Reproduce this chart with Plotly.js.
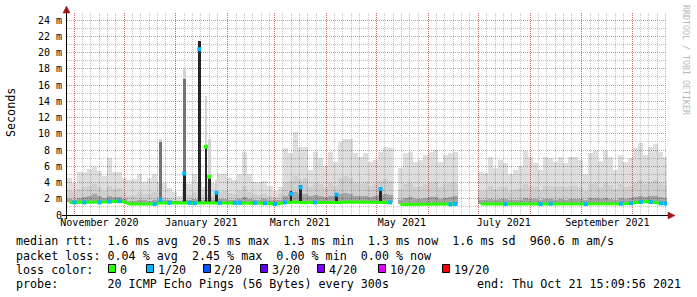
<!DOCTYPE html>
<html><head><meta charset="utf-8">
<script src="https://cdn.plot.ly/plotly-3.0.1.min.js"></script>
<style>html,body{margin:0;padding:0;background:#fff;}#chart{width:697px;height:297px;}</style>
</head><body><div id="chart"></div>
<script>
// ---- data (ms), one value per 3-day bin starting 2020-10-27 19:30 ----
const BIN_START = '2020-10-27T19:30:00Z';
const BIN_DAYS = 3;
const smokeTop = [4.6,4.0,5.3,5.3,5.7,5.9,5.4,4.8,7.0,5.3,
 5.3,4.5,4.3,4.4,5.0,4.1,4.5,5.0,4.1,4.0,
 3.3,2.8,2.4,4.1,3.8,5.0,4.0,3.5,3.9,3.9,
 5.1,5.1,4.6,4.3,5.0,7.8,5.0,4.1,4.1,4.2,
 3.6,3.0,3.5,8.2,7.6,10.2,8.4,8.4,5.5,7.8,
 7.0,6.0,7.8,6.5,9.0,9.3,9.3,7.6,7.2,7.6,
 6.5,6.8,7.8,8.4,8.2,null,5.8,7.6,7.7,6.5,
 6.8,7.4,7.8,8.0,6.5,7.4,7.6,7.8,null,null,
 null,null,5.3,5.2,7.2,5.8,6.8,6.4,5.0,5.6,
 6.0,7.9,7.2,6.4,5.5,7.1,7.0,6.5,7.2,6.4,
 7.1,7.1,6.8,5.0,7.6,7.9,6.6,7.9,7.2,5.6,
 7.4,6.5,7.0,8.3,8.9,7.4,8.4,8.8,7.8,7.2];
const smokeMid = [3.0,2.8,3.2,3.5,3.6,3.8,3.4,3.0,3.6,3.2,
 3.3,2.8,2.4,2.5,2.8,2.6,2.6,2.8,2.4,2.2,
 2.1,2.0,1.9,2.6,2.5,2.8,2.6,2.4,2.5,2.4,
 2.8,2.9,2.7,2.6,2.9,3.6,2.8,2.6,2.5,2.6,
 2.4,2.2,2.6,4.0,4.2,4.8,4.3,4.5,3.5,4.0,
 3.8,3.5,4.0,3.6,4.6,4.8,4.6,4.0,3.8,4.0,
 3.6,3.8,4.2,4.4,4.2,null,3.2,3.8,4.0,3.5,
 3.6,3.8,4.0,4.1,3.5,3.8,3.9,4.0,null,null,
 null,null,3.0,3.0,3.6,3.2,3.5,3.4,3.0,3.2,
 3.3,3.8,3.6,3.4,3.1,3.6,3.6,3.4,3.6,3.4,
 3.6,3.6,3.5,3.0,3.8,3.9,3.5,3.9,3.7,3.2,
 3.8,3.5,3.6,4.0,4.3,3.8,4.1,4.3,3.9,3.7];
const smokeLow = [2.0,1.9,2.1,2.2,2.4,2.6,2.3,2.1,2.3,2.2,
 2.2,2.0,1.7,1.7,1.8,1.8,1.7,1.8,1.9,1.8,
 1.8,1.7,1.7,1.9,1.9,2.0,1.9,1.8,1.9,1.9,
 2.0,2.0,1.9,1.9,2.0,2.2,2.0,1.9,1.9,2.0,
 1.9,1.8,1.9,2.4,2.6,2.8,2.6,2.6,2.3,2.5,
 2.4,2.2,2.4,2.3,2.6,2.7,2.6,2.4,2.3,2.4,
 2.2,2.3,2.5,2.6,2.5,null,1.8,2.1,2.2,2.0,
 2.0,2.1,2.2,2.2,2.0,2.1,2.2,2.3,null,null,
 null,null,1.8,1.8,2.0,1.9,2.0,2.0,1.8,1.9,
 1.9,2.1,2.0,2.0,1.9,2.0,2.0,1.9,2.0,1.9,
 2.0,2.0,2.0,1.8,2.1,2.1,2.0,2.1,2.0,1.9,
 2.1,2.0,2.1,2.2,2.4,2.2,2.3,2.4,2.2,2.1];
const median = [1.55,1.55,1.6,1.55,1.6,1.6,1.55,1.6,1.65,1.7,
 1.7,1.6,1.35,1.35,1.35,1.35,1.35,1.35,1.5,1.5,
 1.5,1.45,1.45,1.5,1.5,1.45,1.5,1.5,1.5,1.5,
 1.5,1.5,1.45,1.5,1.5,1.5,1.5,1.5,1.5,1.45,
 1.4,1.35,1.4,1.55,1.55,1.6,1.55,1.5,1.55,1.55,
 1.5,1.55,1.55,1.5,1.55,1.6,1.6,1.55,1.6,1.55,
 1.6,1.6,1.55,1.6,1.55,null,1.3,1.3,1.35,1.3,
 1.3,1.3,1.3,1.35,1.3,1.3,1.3,1.35,null,null,
 null,null,1.35,1.35,1.35,1.35,1.35,1.35,1.35,1.35,
 1.35,1.35,1.35,1.4,1.35,1.35,1.4,1.35,1.35,1.35,
 1.35,1.4,1.35,1.35,1.35,1.4,1.35,1.35,1.4,1.35,
 1.4,1.4,1.45,1.5,1.6,1.65,1.6,1.5,1.45,1.4];
const lossBins = [1,3,6,8,10,17,20,24,25,30,33,34,37,39,41,43,49,64,76,77,87,94,96,103,110,112,114,116,118,119];

// short high-latency episodes
const spikeDates  = ['2020-12-22 18:30','2021-01-06 00:00','2021-01-14 23:00','2021-01-19 00:00','2021-01-20 23:00','2021-01-25 07:00','2021-03-10 22:00','2021-03-16 14:00','2021-04-07 03:00','2021-05-03 11:00'];
const spikeBase   = [1.5,1.5,1.5,1.5,1.5,1.5,1.5,1.5,1.5,1.5];
const spikeLight  = [9.3,18.2,21.4,14.7,9.3,4.3,null,null,null,null];
const spikeMid    = [9.0,16.8,21.4,8.6,4.8,2.9,null,null,null,null];
const spikeDark   = [1.9,5.1,21.4,8.5,4.7,2.8,2.9,3.7,2.6,3.4];
const spikeMedian = [1.85,5.1,20.4,8.4,4.7,2.75,2.6,3.4,2.5,3.2];
const spikeLoss   = [1,1,1,0,0,1,1,1,1,1];

// axes
const monthStarts = ['2020-11-01','2020-12-01','2021-01-01','2021-02-01','2021-03-01','2021-04-01','2021-05-01','2021-06-01','2021-07-01','2021-08-01','2021-09-01','2021-10-01'];
const xTickVals = ['2020-11-16 06:00','2021-01-16 06:00','2021-03-16 06:00','2021-05-16 06:00','2021-07-16 06:00','2021-09-16 06:00'];
const xTickText = ['November 2020','January 2021','March 2021','May 2021','July 2021','September 2021'];
const yTickVals = [0,2,4,6,8,10,12,14,16,18,20,22,24];
const yTickText = ['0','2 m','4 m','6 m','8 m','10 m','12 m','14 m','16 m','18 m','20 m','22 m','24 m'];
const yMinorVals = [1,3,5,7,9,11,13,15,17,19,21,23];

// legend
const lossLabels = ['0','1/20','2/20','3/20','4/20','10/20','19/20'];
const lossColors = ['#26ff00','#00b8ff','#0059ff','#5e00ff','#7e00ff','#dd00ff','#ff0000'];
const legendLines = [
 'median rtt:  1.6 ms avg  20.5 ms max  1.3 ms min  1.3 ms now  1.6 ms sd  960.6 m am/s',
 'packet loss: 0.04 % avg  2.45 % max  0.00 % min  0.00 % now',
 'loss color:',
 'probe:       20 ICMP Echo Pings (56 Bytes) every 300s'];
const endText = 'end: Thu Oct 21 15:09:56 2021';

// ---- build ----
const DAY = 864e5;
const t0 = Date.parse(BIN_START);
const binX = smokeTop.map((_, i) => t0 + (i * BIN_DAYS + BIN_DAYS / 2) * DAY);
const above = (arr, base) => arr.map((v, i) => (v == null || base[i] == null) ? null : v - base[i]);
const RANGE = ['2020-10-27 19:30', '2021-10-21 22:30'];
const FONT = 'DejaVu Sans Mono';

const traces = [
 {type:'bar', x:binX, base:median, y:above(smokeTop, median), width:BIN_DAYS*DAY, marker:{color:'rgba(0,0,0,0.13)', line:{width:0}}, hoverinfo:'skip'},
 {type:'bar', x:binX, base:median, y:above(smokeMid, median), width:BIN_DAYS*DAY, marker:{color:'rgba(0,0,0,0.065)', line:{width:0}}, hoverinfo:'skip'},
 {type:'bar', x:binX, base:median, y:above(smokeLow, median), width:BIN_DAYS*DAY, marker:{color:'rgba(0,0,0,0.2)', line:{width:0}}, hoverinfo:'skip'},
 {type:'bar', x:spikeDates, base:spikeBase, y:above(spikeLight, spikeBase), width:1.6*DAY, marker:{color:'#d2d2d2', line:{width:0}}, hoverinfo:'skip'},
 {type:'bar', x:spikeDates, base:spikeBase, y:above(spikeMid, spikeBase), width:1.6*DAY, marker:{color:'#747474', line:{width:0}}, hoverinfo:'skip'},
 {type:'bar', x:spikeDates, base:spikeBase, y:above(spikeDark, spikeBase), width:1.6*DAY, marker:{color:'#262626', line:{width:0}}, hoverinfo:'skip'},
 {type:'scatter', mode:'lines', x:binX, y:median, line:{color:lossColors[0], width:3}, hoverinfo:'skip'},
 {type:'scatter', mode:'markers', xaxis:'x2', x:lossBins.map(i => binX[i]), y:lossBins.map(i => median[i]), marker:{symbol:'square', size:4, color:lossColors[1], line:{width:0}}, hoverinfo:'skip'},
 {type:'scatter', mode:'markers', xaxis:'x2', x:spikeDates, y:spikeMedian, marker:{symbol:'square', size:4, color:spikeLoss.map(l => lossColors[l]), line:{width:0}}, hoverinfo:'skip'}
];

// minor vertical grid: days 1,6,11,16,21,26 of each month
const minorGrid = [];
const months = ['2020-10','2020-11','2020-12','2021-01','2021-02','2021-03','2021-04','2021-05','2021-06','2021-07','2021-08','2021-09','2021-10'];
months.forEach(m => [1,6,11,16,21,26].forEach(d => minorGrid.push(m + '-' + String(d).padStart(2,'0'))));

const MGRID = 'rgba(230,0,0,0.45)';
const GRID = 'rgba(120,120,120,0.45)';
const DASH = '1px,1px';

const px2x = x => (x - 67) / 600;
const px2y = y => (215 - y) / 202;
const AXC = '#000';
const ARROW = '#a31515';
const shapes = [
 {type:'line', xref:'paper', yref:'paper', x0:px2x(66.5), x1:px2x(66.5), y0:px2y(219), y1:px2y(10), line:{color:AXC, width:1}},
 {type:'line', xref:'paper', yref:'paper', x0:px2x(62), x1:px2x(669), y0:px2y(215.5), y1:px2y(215.5), line:{color:AXC, width:1}},
 {type:'path', xref:'paper', yref:'paper', path:`M ${px2x(66.5)},${px2y(6)} L ${px2x(63)},${px2y(13)} L ${px2x(70)},${px2y(13)} Z`, fillcolor:ARROW, line:{color:ARROW, width:0.5}},
 {type:'path', xref:'paper', yref:'paper', path:`M ${px2x(675)},${px2y(215.5)} L ${px2x(668)},${px2y(212)} L ${px2x(668)},${px2y(219)} Z`, fillcolor:ARROW, line:{color:ARROW, width:0.5}}
];
const boxX = [108,146,203,260,317,378,442];
const labX = [119,157,213,271,328,389,453];
boxX.forEach((bx, i) => shapes.push({type:'rect', xref:'paper', yref:'paper', x0:px2x(bx+0.5), x1:px2x(bx+7.5), y0:px2y(264.5), y1:px2y(272.5), fillcolor:lossColors[i], line:{color:'#000', width:1}}));

const nb = s => s.replace(/ /g, '\u00a0');
const LF = {family:FONT, size:11.7, color:'#000'};
const annotations = [
 {xref:'paper', yref:'paper', x:px2x(11), y:px2y(113), text:'Seconds', textangle:-90, showarrow:false, font:LF, xanchor:'center', yanchor:'middle'},
 {xref:'paper', yref:'paper', x:px2x(686), y:px2y(60), text:nb('RRDTOOL / TOBI OETIKER'), textangle:90, showarrow:false, font:{family:FONT, size:8.3, color:'#b8b8b8'}, xanchor:'center', yanchor:'middle'},
 {xref:'paper', yref:'paper', x:px2x(681.5), y:px2y(283.5), text:nb(endText), showarrow:false, font:LF, xanchor:'right', yanchor:'middle', borderpad:0}
];
const rowY = [241.5, 255.5, 269.5, 283.5];
legendLines.forEach((s, i) => annotations.push({xref:'paper', yref:'paper', x:px2x(15), y:px2y(rowY[i]), text:nb(s), showarrow:false, font:LF, xanchor:'left', yanchor:'middle', borderpad:0}));
labX.forEach((lx, i) => annotations.push({xref:'paper', yref:'paper', x:px2x(lx), y:px2y(rowY[2]), text:lossLabels[i], showarrow:false, font:LF, xanchor:'left', yanchor:'middle', borderpad:0}));

const layout = {
 width:697, height:297,
 margin:{l:67, r:30, t:13, b:82, pad:0},
 paper_bgcolor:'#fff', plot_bgcolor:'#fff',
 showlegend:false, barmode:'overlay', bargap:0,
 font:{family:FONT, size:10, color:'#000'},
 xaxis:{type:'date', range:RANGE, fixedrange:true, tickmode:'array', tickvals:monthStarts, showticklabels:false, ticks:'',
  showgrid:true, gridcolor:MGRID, griddash:DASH, gridwidth:1, showline:false, zeroline:false,
  minor:{tickmode:'array', tickvals:minorGrid, showgrid:true, gridcolor:GRID, griddash:DASH, gridwidth:1, ticks:''}},
 xaxis2:{type:'date', overlaying:'x', anchor:'y', side:'bottom', range:RANGE, fixedrange:true, tickmode:'array', tickvals:xTickVals, ticktext:xTickText,
  showgrid:false, showline:false, zeroline:false, ticks:'', tickfont:{family:FONT, size:10, color:'#000'}, ticklabelstandoff:0},
 yaxis:{range:[0, 24.862], fixedrange:true, tickmode:'array', tickvals:yTickVals, ticktext:yTickText, ticks:'',
  showgrid:true, gridcolor:MGRID, griddash:DASH, gridwidth:1, showline:false, zeroline:false,
  tickfont:{family:FONT, size:10, color:'#000'}, ticklabelstandoff:4,
  minor:{tickmode:'array', tickvals:yMinorVals, showgrid:true, gridcolor:GRID, griddash:DASH, gridwidth:1, ticks:''}},
 shapes:shapes, annotations:annotations
};

Plotly.newPlot('chart', traces, layout, {displayModeBar:false, staticPlot:true});
</script></body></html>
